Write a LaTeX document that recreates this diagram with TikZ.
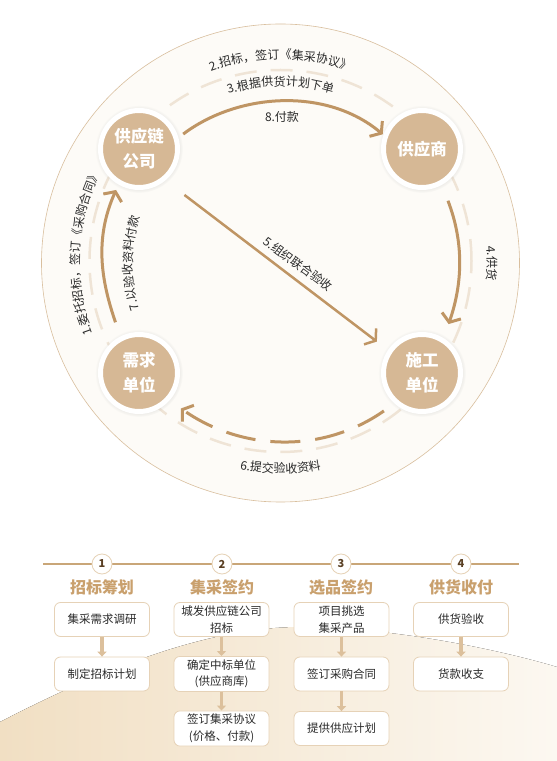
\documentclass[tikz,border=0pt]{standalone}
\usepackage{fontspec}
\setmainfont{Noto Sans CJK SC}
\usetikzlibrary{arrows.meta,decorations.text,shadows}
\definecolor{ringfill}{HTML}{FDFBF7}
\definecolor{ringline}{HTML}{D9BF9E}
\definecolor{ringdash}{HTML}{EFE4D6}
\definecolor{nodetan}{HTML}{D6B895}
\definecolor{flowcol}{HTML}{BF9564}
\definecolor{txt}{HTML}{2A2A2A}
\definecolor{titlecol}{HTML}{C9A06D}
\definecolor{linecol}{HTML}{C9A678}
\definecolor{boxline}{HTML}{E6D2B7}
\definecolor{boxarrow}{HTML}{DCC09C}
\definecolor{numcol}{HTML}{5A4024}
\definecolor{waveL}{HTML}{F1DFC3}
\definecolor{waveR}{HTML}{FCF8F1}
\newcommand\lblf{\fontsize{12}{14}\selectfont\color{txt}}

\begin{document}
\begin{tikzpicture}[x=1pt,y=1pt,
    flow/.style={draw=flowcol,line width=3pt,-{Straight Barb[length=7pt,width=20pt]}},
    party/.style={circle,minimum size=77pt,inner sep=0pt,fill=nodetan,draw=white,line width=5pt,
        circular glow={fill=black!35,opacity=.3,shadow scale=1.14},
        text=white,align=center,font=\fontsize{16.5}{25}\selectfont\bfseries},
    lbl/.style={font=\lblf},
    arclbl/.style={decorate,decoration={text along path,text align=center,text={#1}}},
    stage/.style={draw=boxline,line width=.8pt,fill=white,rounded corners=6pt,
        minimum width=95pt,minimum height=34pt,align=center,
        font=\fontsize{11.5}{16.5}\selectfont,text=txt},
    godown/.style={draw=boxarrow,line width=3.5pt,-{Triangle[length=5pt,width=9pt]}}]
\useasboundingbox (0,0) rectangle (557,761);
\fill[white] (0,0) rectangle (557,761);

% flow circle
\coordinate (C) at (280.5,498);
\draw[fill=ringfill,draw=ringline,line width=.6pt] (C) circle (239);
\draw[ringdash,line width=2.5pt,dash pattern=on 22pt off 14pt] (280.5,500) circle (191);

\node[party] (gyl) at (139,612) {供应链\\公司};
\node[party] (gys) at (422,612) {供应商};
\node[party] (xq) at (139,388) {需求\\单位};
\node[party] (sg) at (422,388) {施工\\单位};

\draw[flow,shorten <=6pt,shorten >=1pt] (gyl.16) to[out=37,in=140,looseness=.93] (gys.160);
\draw[flow,shorten <=17pt,shorten >=15pt] (gys.-61) to[out=-69,in=71] (sg.58);
\draw[flow,shorten <=15pt,shorten >=6pt] (xq.117) to[out=109,in=-114] (gyl.-120);
\draw[flow,dash pattern=on 30pt off 15pt,shorten <=13pt,shorten >=14pt] (sg.228) to[out=-145,in=-35] (xq.-42);
\draw[flow,line width=2.5pt,shorten <=24pt,shorten >=14pt] (gyl.-50) -- (sg.146);

% labels
\path[shift={(C)},arclbl={|\lblf|1.委托招标，签订《采购合同》}] (232:201) arc[start angle=232,end angle=122,radius=201];
\path[shift={(C)},arclbl={|\lblf|2.招标，签订《集采协议》}] (140:204) arc[start angle=140,end angle=40,radius=204];
\path[shift={(C)},arclbl={|\lblf|3.根据供货计划下单}] (130:177) arc[start angle=130,end angle=50,radius=177];
\path[shift={(C)},arclbl={|\lblf|4.供货}] (40:207) arc[start angle=40,end angle=-40,radius=207];
\path[shift={(C)},arclbl={|\lblf|6.提交验收资料}] (240:210) arc[start angle=240,end angle=300,radius=210];
\path[shift={(C)},arclbl={|\lblf|7.以验收资料付款}] (225:148) arc[start angle=225,end angle=135,radius=148];
\node[lbl] (l8) at (282,644) {8.付款};
\node[lbl,rotate=-36.3] (l5) at (298,497) {5.组织联合验收};

% stages
\fill[left color=waveL,right color=waveR] (0,0) -- (0,39) .. controls (120,101) and (220,136) .. (310,134) .. controls (400,132) and (500,111) .. (557,94) -- (557,0) -- cycle;
\draw[linecol,line width=2pt] (43,197) -- (519,197);
\foreach \x/\n/\t in {102/1/招标筹划,222/2/集采签约,341/3/选品签约,461/4/供货收付}
{
    \node[circle,draw=boxline,fill=white,line width=.8pt,minimum size=20pt,inner sep=0pt,
        font=\fontsize{11}{11}\selectfont\bfseries,text=numcol] (n\n) at (\x,197) {\n};
    \node[font=\fontsize{16}{16}\selectfont\bfseries,text=titlecol] (t\n) at (\x,174) {\t};
}

\node[stage] (b11) at (102,141.5) {集采需求调研};
\node[stage] (b12) at (102,87) {制定招标计划};
\node[stage] (b21) at (221.5,141.5) {城发供应链公司\\招标};
\node[stage] (b22) at (221.5,87) {确定中标单位\\(供应商库)};
\node[stage] (b23) at (221.5,32.5) {签订集采协议\\(价格、付款)};
\node[stage] (b31) at (341.5,141.5) {项目挑选\\集采产品};
\node[stage] (b32) at (341.5,87) {签订采购合同};
\node[stage] (b33) at (341.5,32.5) {提供供应计划};
\node[stage] (b41) at (461,141.5) {供货验收};
\node[stage] (b42) at (461,87) {货款收支};

\draw[godown] (b11) -- (b12);
\draw[godown] (b21) -- (b22);
\draw[godown] (b22) -- (b23);
\draw[godown] (b31) -- (b32);
\draw[godown] (b32) -- (b33);
\draw[godown] (b41) -- (b42);
\end{tikzpicture}
\end{document}
